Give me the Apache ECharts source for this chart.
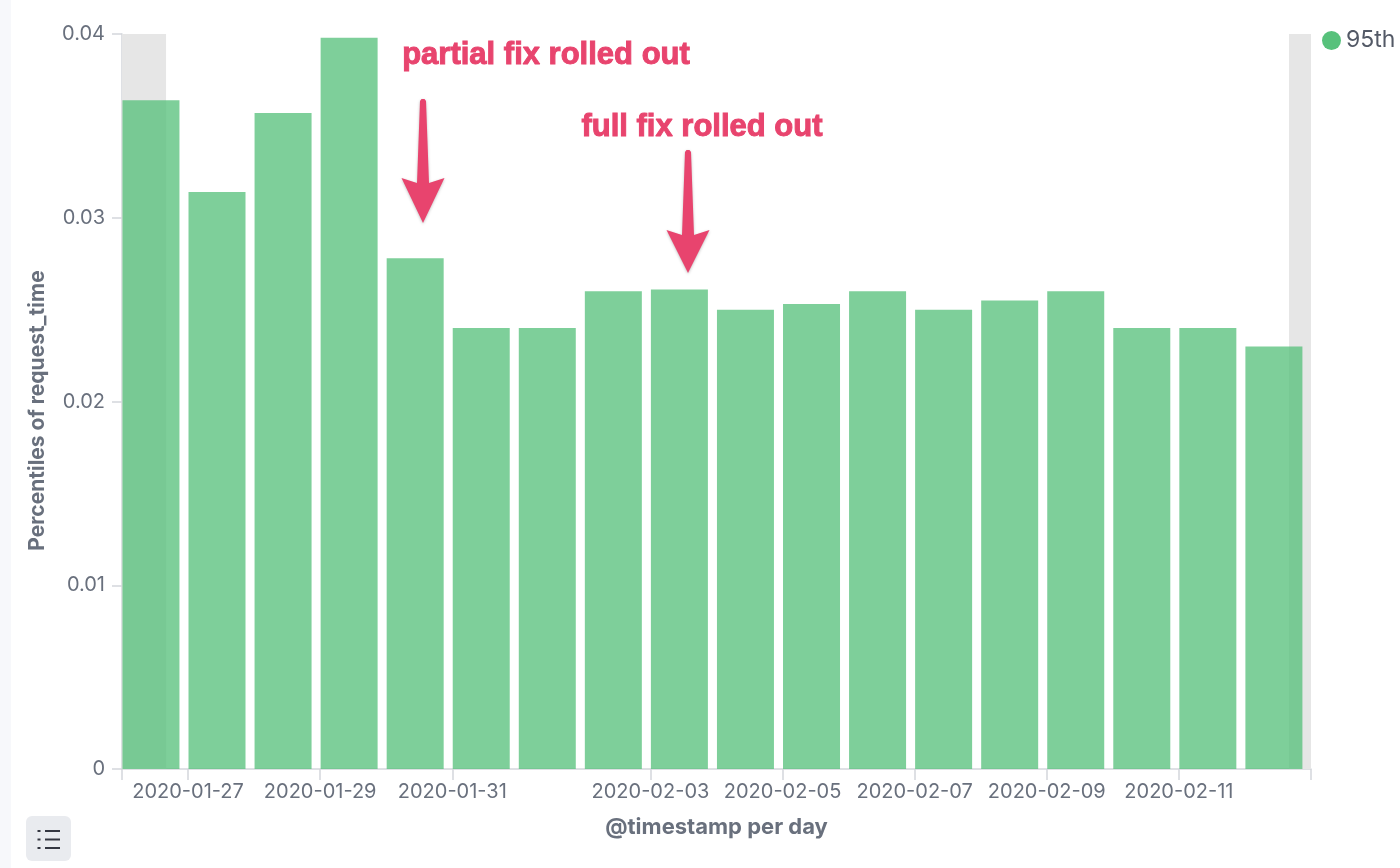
<!DOCTYPE html>
<html><head><meta charset="utf-8">
<script src="https://cdn.jsdelivr.net/npm/echarts@6/dist/echarts.min.js"></script>
<style>html,body{margin:0;padding:0;background:#fff}#c{width:1400px;height:868px}</style>
</head><body><div id="c"></div><script>
const days = ['2020-01-26','2020-01-27','2020-01-28','2020-01-29','2020-01-30','2020-01-31','2020-02-01','2020-02-02','2020-02-03','2020-02-04','2020-02-05','2020-02-06','2020-02-07','2020-02-08','2020-02-09','2020-02-10','2020-02-11','2020-02-12'];
const p95 = [0.0364,0.0314,0.0357,0.0398,0.0278,0.0240,0.0240,0.0260,0.0261,0.0250,0.0253,0.0260,0.0250,0.0255,0.0260,0.0240,0.0240,0.0230];
const tickDates = ['2020-01-26','2020-01-27','2020-01-29','2020-01-31','2020-02-03','2020-02-05','2020-02-07','2020-02-09','2020-02-11','2020-02-13'];
const labelDates = ['2020-01-27','2020-01-29','2020-01-31','2020-02-03','2020-02-05','2020-02-07','2020-02-09','2020-02-11'];
const partialRanges = [['2020-01-26T00:00:00Z','2020-01-26T16:00:00Z'],['2020-02-12T16:00:00Z','2020-02-13T00:00:00Z']];
const seriesName = '95th';

const DAY = 86400000;
const chart = echarts.init(document.getElementById('c'));
const red = '#e8446e';
const FONT = 'bold 31px "Liberation Sans", Arial, sans-serif';
const annoText = (t, x, y) => ([
  { type: 'text', z: 99,
    style: { text: t, x: x, y: y, align: 'center', verticalAlign: 'middle', font: FONT,
      fill: '#fff', stroke: '#fff', lineWidth: 6,
      shadowColor: 'rgba(0,0,0,0.35)', shadowBlur: 3, shadowOffsetY: 1.5 } },
  { type: 'text', z: 100,
    style: { text: t, x: x, y: y, align: 'center', verticalAlign: 'middle', font: FONT,
      fill: red, stroke: red, lineWidth: 1 } }
]);
const arrow = (x, y0, yh, y1, hw) => ({
  type: 'polygon', z: 100,
  shape: { points: [[x, y1], [x - hw, yh], [x - 6, yh + 5], [x - 3, y0 + 2], [x - 1.5, y0], [x + 1.5, y0], [x + 3, y0 + 2], [x + 6, yh + 5], [x + hw, yh]] },
  style: { fill: red, shadowColor: 'rgba(0,0,0,0.25)', shadowBlur: 3, shadowOffsetY: 1 }
});
const iconLines = [];
[831, 839.5, 848].forEach(y => {
  iconLines.push({ type: 'rect', z: 51, shape: { x: 37.5, y: y - 1, width: 3, height: 2 }, style: { fill: '#343741' } });
  iconLines.push({ type: 'rect', z: 51, shape: { x: 45, y: y - 1, width: 15, height: 2 }, style: { fill: '#343741' } });
});

chart.setOption({
  animation: false,
  grid: { left: 122, right: 89, top: 34, bottom: 99 },
  legend: {
    data: [seriesName], left: 1322, top: 29, padding: 0, icon: 'circle', itemWidth: 19, itemHeight: 19, itemGap: 8,
    itemStyle: { opacity: 1 },
    textStyle: { fontFamily: 'Inter', fontSize: 23, color: '#535966', padding: [0, 0, 0, 0] }
  },
  xAxis: {
    type: 'value',
    min: Date.parse(tickDates[0]), max: Date.parse(tickDates[tickDates.length - 1]),
    name: '@timestamp per day', nameLocation: 'middle', nameGap: 47,
    nameTextStyle: { fontFamily: 'Inter', fontWeight: 'bold', fontSize: 22, color: '#69707d' },
    axisLine: { show: true, lineStyle: { color: '#d3d6db', width: 1.5 } },
    axisTick: { show: true, length: 11, lineStyle: { color: '#d3d6db', width: 1.5 }, customValues: tickDates.map(d => Date.parse(d)) },
    axisLabel: { customValues: labelDates.map(d => Date.parse(d)), margin: 13,
      fontFamily: 'Inter', fontSize: 20, color: '#69707d',
      formatter: v => new Date(v).toISOString().slice(0, 10) },
    splitLine: { show: false }
  },
  yAxis: {
    type: 'value', min: 0, max: 0.04, interval: 0.01,
    name: 'Percentiles of request_time', nameLocation: 'middle', nameGap: 74,
    nameTextStyle: { fontFamily: 'Inter', fontWeight: 'bold', fontSize: 21, color: '#69707d', padding: [0, 18, 0, 0] },
    axisLine: { show: true, lineStyle: { color: '#d3d6db', width: 1.5 } },
    axisTick: { show: true, length: 10, lineStyle: { color: '#d3d6db', width: 1.5 } },
    axisLabel: { margin: 17, fontFamily: 'Inter', fontSize: 20, color: '#69707d' },
    splitLine: { show: false }
  },
  series: [
    { name: 'partial', type: 'bar', data: [], z: 1, silent: true,
      markArea: { silent: true, z: 1, itemStyle: { color: '#e6e6e6' },
        data: partialRanges.map(r => [{ xAxis: Date.parse(r[0]) }, { xAxis: Date.parse(r[1]) }]) } },
    { name: seriesName, type: 'bar', z: 2, barWidth: 57,
      itemStyle: { color: '#57c17b', opacity: 0.77 },
      data: days.map((d, i) => [Date.parse(d) + 0.43 * DAY, p95[i]]) }
  ],
  graphic: [
    { type: 'rect', z: 0, shape: { x: 0, y: 0, width: 11, height: 868 }, style: { fill: '#f7f8fb' } },
    { type: 'rect', z: 50, shape: { x: 26, y: 816, width: 45, height: 45, r: 6 }, style: { fill: '#e9ebef' } },
    ...iconLines,
    ...annoText('partial fix rolled out', 546, 55),
    ...annoText('full fix rolled out', 702, 127),
    arrow(423, 99, 178, 223, 21.5),
    arrow(688, 150, 230, 273, 21.5)
  ]
});
</script></body></html>
